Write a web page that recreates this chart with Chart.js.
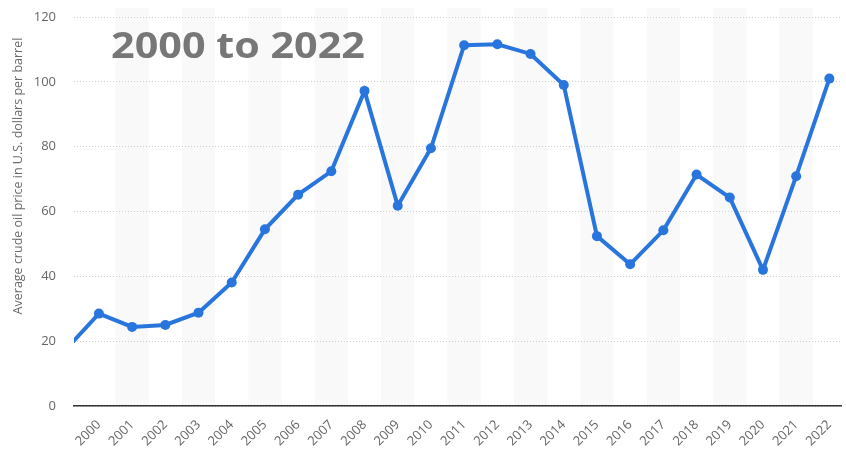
<!DOCTYPE html>
<html>
<head>
<meta charset="utf-8">
<script src="https://cdn.jsdelivr.net/npm/chart.js@4/dist/chart.umd.min.js"></script>
<style>
  html, body { margin: 0; padding: 0; background: #fff; }
  #wrap { width: 846px; height: 455px; position: relative; }
</style>
</head>
<body>
<div id="wrap"><canvas id="c" width="846" height="455"></canvas></div>
<script>
// Data
const years = [1999, 2000, 2001, 2002, 2003, 2004, 2005, 2006, 2007, 2008, 2009, 2010, 2011,
               2012, 2013, 2014, 2015, 2016, 2017, 2018, 2019, 2020, 2021, 2022];
const prices = [17.4, 28.5, 24.4, 25.0, 28.8, 38.1, 54.5, 65.2, 72.4, 97.2, 61.8, 79.5, 111.3,
                111.6, 108.6, 99.0, 52.4, 43.7, 54.2, 71.4, 64.3, 42.0, 70.9, 101.0];
const tickYears = [2000, 2001, 2002, 2003, 2004, 2005, 2006, 2007, 2008, 2009, 2010, 2011,
                   2012, 2013, 2014, 2015, 2016, 2017, 2018, 2019, 2020, 2021, 2022];
const bandYears = [2001, 2003, 2005, 2007, 2009, 2011, 2013, 2015, 2017, 2019, 2021];
const yTicks = [0, 20, 40, 60, 80, 100, 120];
const titleText = '2000 to 2022';
const yAxisTitle = 'Average crude oil price in U.S. dollars per barrel';

const points = years.map((y, i) => ({ x: y, y: prices[i] }));

const bandPlugin = {
  id: 'bands',
  beforeDraw(chart) {
    const { ctx, chartArea, scales } = chart;
    const xs = scales.x;
    ctx.save();
    ctx.fillStyle = '#f9f9f9';
    bandYears.forEach(y => {
      const l = xs.getPixelForValue(y - 0.5);
      const r = xs.getPixelForValue(y + 0.5);
      ctx.fillRect(l, chartArea.top - 9, r - l, chartArea.bottom - chartArea.top + 9);
    });
    // y-axis title
    ctx.translate(22, 176);
    ctx.rotate(-Math.PI / 2);
    ctx.fillStyle = '#6b6b6b';
    ctx.font = '12.5px "Open Sans"';
    ctx.textAlign = 'center';
    ctx.textBaseline = 'alphabetic';
    ctx.fillText(yAxisTitle, 0, 0);
    ctx.restore();
  },
  beforeDatasetsDraw(chart) {
    const { ctx } = chart;
    ctx.save();
    ctx.fillStyle = '#777777';
    ctx.font = 'bold 36px "Open Sans"';
    ctx.textBaseline = 'alphabetic';
    ctx.textAlign = 'left';
    const w = ctx.measureText(titleText).width;
    ctx.translate(111, 58);
    ctx.scale(254 / w, 1);
    ctx.fillText(titleText, 0, 0);
    ctx.restore();
  }
};

new Chart(document.getElementById('c'), {
  type: 'line',
  data: {
    datasets: [{
      data: points,
      borderColor: '#2876dd',
      backgroundColor: '#2876dd',
      borderWidth: 4,
      pointRadius: 5,
      pointHoverRadius: 5,
      pointBorderWidth: 0,
      tension: 0,
      clip: { left: 0, top: 10, right: 10, bottom: 10 }
    }]
  },
  plugins: [bandPlugin],
  options: {
    responsive: false,
    animation: false,
    devicePixelRatio: 1,
    layout: { padding: { left: 9, right: 3, top: 17, bottom: 0 } },
    plugins: { legend: { display: false }, tooltip: { enabled: false } },
    scales: {
      x: {
        type: 'linear',
        min: 1999.25,
        max: 2022.35,
        afterBuildTicks(axis) { axis.ticks = tickYears.map(v => ({ value: v })); },
        afterFit(axis) { axis.height = 49; axis.paddingLeft = 0; axis.paddingRight = 0; },
        grid: { display: false, drawTicks: false },
        border: { display: true, color: '#333333', width: 1.5 },
        ticks: {
          autoSkip: false,
          minRotation: 45,
          maxRotation: 45,
          padding: 11,
          color: '#666666',
          font: { family: '"Open Sans"', size: 13 },
          callback: v => String(v)
        }
      },
      y: {
        min: 0,
        max: 120,
        afterBuildTicks(axis) { axis.ticks = yTicks.map(v => ({ value: v })); },
        afterFit(axis) { axis.width = 65; axis.paddingTop = 0; axis.paddingBottom = 0; },
        grid: { color: '#cccccc', lineWidth: 1, drawTicks: false },
        border: { display: false, dash: [1, 2] },
        ticks: {
          padding: 18,
          color: '#666666',
          font: { family: '"Open Sans"', size: 13 }
        },
        title: { display: false }
      }
    }
  }
});
</script>
</body>
</html>
